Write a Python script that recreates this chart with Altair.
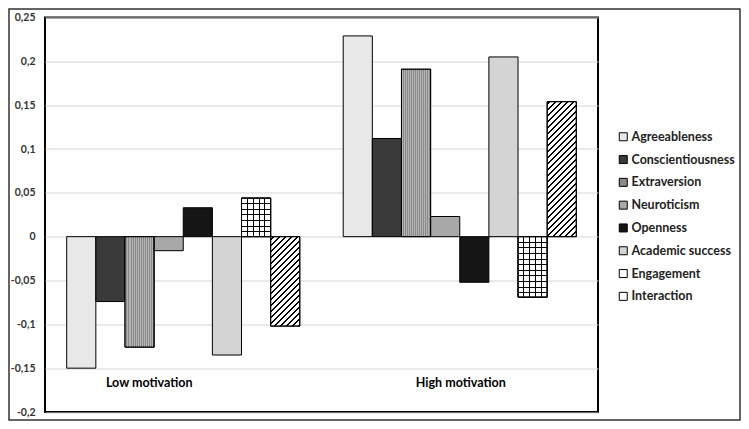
import altair as alt
import pandas as pd

groups = ["Low motivation", "High motivation"]
series = ["Agreeableness", "Conscientiousness", "Extraversion", "Neuroticism",
          "Openness", "Academic success", "Engagement", "Interaction"]
low_values = [-0.150, -0.074, -0.126, -0.016, 0.033, -0.135, 0.044, -0.102]
high_values = [0.229, 0.112, 0.191, 0.023, -0.052, 0.205, -0.069, 0.154]
y_ticks = [-0.2, -0.15, -0.1, -0.05, 0, 0.05, 0.1, 0.15, 0.2, 0.25]

fills = ["#e8e8e8", "#3a3a3a", "#8a8a8a", "#a8a8a8", "#151515", "#d4d4d4", "#ffffff", "#ffffff"]

rows = []
for g, vals in zip(groups, [low_values, high_values]):
    for s, v in zip(series, vals):
        rows.append({"group": g, "series": s, "value": v})
df = pd.DataFrame(rows)

W, H = 553, 394.5
PX_PER_UNIT = H / (0.25 + 0.2)
TRANSP = "rgba(0,0,0,0)"


def stripe_stops(start, period, width, tmax, color):
    stops = [{"offset": 0, "color": TRANSP}]
    t = start
    while t < min(tmax, 1):
        a = max(t, 0)
        b = min(t + width, 1)
        stops += [{"offset": a, "color": TRANSP}, {"offset": a, "color": color},
                  {"offset": b, "color": color}, {"offset": b, "color": TRANSP}]
        t += period
    stops.append({"offset": 1, "color": TRANSP})
    return stops


x_enc = alt.X("group:N", scale=alt.Scale(domain=groups, paddingInner=0.157, paddingOuter=0.0785),
              axis=None, sort=groups)
xo_enc = alt.XOffset("series:N", scale=alt.Scale(domain=series, paddingInner=0, paddingOuter=0),
                     sort=series)
y_enc = alt.Y("value:Q",
              scale=alt.Scale(domain=[-0.2, 0.25], nice=False, zero=False),
              axis=alt.Axis(values=y_ticks, title=None, grid=True, gridColor="#d4d4d4",
                            domain=False, ticks=False, labelPadding=10,
                            labelFont="Lato", labelFontSize=10.5, labelFontWeight="bold",
                            labelColor="#333333",
                            labelExpr="replace(replace(format(datum.value, '.2~f'), '.', ','), '\u2212', '-')"))

base = alt.Chart(df).mark_bar(stroke="black", strokeWidth=1).encode(
    x=x_enc, xOffset=xo_enc, y=y_enc,
    color=alt.Color("series:N", sort=series,
                    scale=alt.Scale(domain=series, range=fills),
                    legend=alt.Legend(title=None, orient="none", legendX=572, legendY=113,
                                      symbolType="square", symbolSize=64,
                                      symbolStrokeColor="black", symbolStrokeWidth=1,
                                      labelFont="Lato", labelFontSize=12.5, labelFontWeight="bold",
                                      labelColor="#222222",
                                      rowPadding=9.8, labelOffset=2, padding=0)),
)

layers = []

# Extraversion: fine vertical light stripes
grad_extra = {"gradient": "linear", "x1": 0, "y1": 0, "x2": 1, "y2": 0,
              "stops": stripe_stops(0.5 / 29, 2 / 29, 1 / 29, 1, "rgba(255,255,255,0.35)")}
layers.append(alt.Chart(df).transform_filter(alt.datum.series == "Extraversion")
              .mark_bar(fill=grad_extra, stroke="black", strokeWidth=1)
              .encode(x=x_enc, xOffset=xo_enc, y=y_enc))

# Engagement: grid (vertical lines + horizontal lines per bar)
grad_eng_v = {"gradient": "linear", "x1": 0, "y1": 0, "x2": 1, "y2": 0,
              "stops": stripe_stops(0.2 - 0.5 / 29, 0.2, 1.1 / 29, 0.9, "black")}
layers.append(alt.Chart(df).transform_filter(alt.datum.series == "Engagement")
              .mark_bar(fill=grad_eng_v, stroke="black", strokeWidth=1)
              .encode(x=x_enc, xOffset=xo_enc, y=y_enc))
for g, vals in zip(groups, [low_values, high_values]):
    h = abs(vals[series.index("Engagement")]) * PX_PER_UNIT
    grad = {"gradient": "linear", "x1": 0, "y1": 0, "x2": 0, "y2": 1,
            "stops": stripe_stops(5.6 / h - 0.5 / h, 5.6 / h, 1.1 / h, 1 - 3 / h, "black")}
    layers.append(alt.Chart(df)
                  .transform_filter((alt.datum.series == "Engagement") & (alt.datum.group == g))
                  .mark_bar(fill=grad, stroke="black", strokeWidth=1)
                  .encode(x=x_enc, xOffset=xo_enc, y=y_enc))

# Interaction: diagonal hatch per bar
for g, vals in zip(groups, [low_values, high_values]):
    h = abs(vals[series.index("Interaction")]) * PX_PER_UNIT
    k = 29 / (841 + h * h)
    grad = {"gradient": "linear", "x1": 0, "y1": 0, "x2": 1, "y2": h / 29,
            "stops": stripe_stops(2 * k, 6 * k, 2.0 * k, (29 + h) * k, "black")}
    layers.append(alt.Chart(df)
                  .transform_filter((alt.datum.series == "Interaction") & (alt.datum.group == g))
                  .mark_bar(fill=grad, stroke="black", strokeWidth=1)
                  .encode(x=x_enc, xOffset=xo_enc, y=y_enc))

label_low = alt.Chart(pd.DataFrame({"group": [groups[0]]})).mark_text(
    font="Lato", fontWeight="bold", fontSize=12.5, color="black", baseline="middle", dx=-34
).encode(x=x_enc, y=alt.value(365.5), text="group:N")
label_high = alt.Chart(pd.DataFrame({"group": [groups[1]]})).mark_text(
    font="Lato", fontWeight="bold", fontSize=12.5, color="black", baseline="middle", dx=1
).encode(x=x_enc, y=alt.value(365.5), text="group:N")

outer = alt.Chart(alt.Data(values=[{}])).mark_rect(
    filled=False, stroke="#333333", strokeWidth=1.5
).encode(x=alt.value(-36), x2=alt.value(695), y=alt.value(-8.5), y2=alt.value(402.5))

chart = alt.layer(base, *layers, label_low, label_high, outer).properties(
    width=W, height=H,
    background="white",
    padding={"left": 37, "top": 9.5, "right": 143, "bottom": 9},
    autosize=alt.AutoSizeParams(type="none"),
).configure_view(stroke="black", strokeWidth=2)

chart.save("out.html", embed_options={"renderer": "svg", "actions": False})
